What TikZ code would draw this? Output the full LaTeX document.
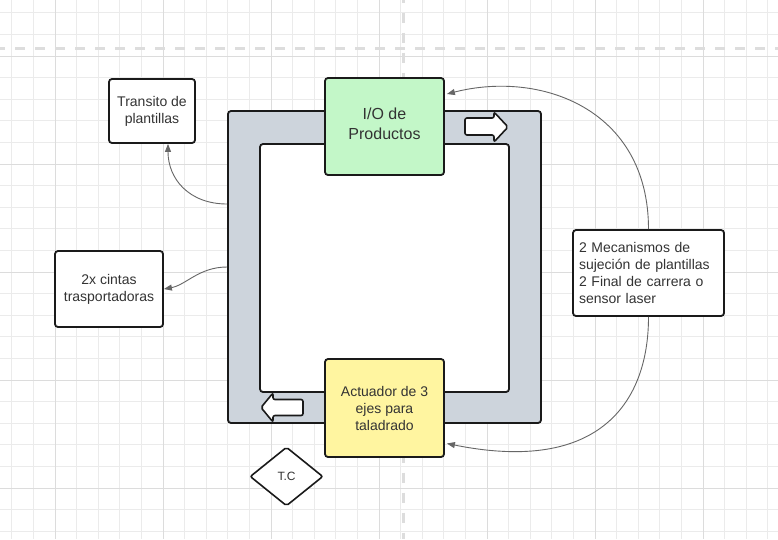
\documentclass[tikz,border=0pt]{standalone}
\usepackage{fontspec}
\setmainfont{Liberation Sans}
\usetikzlibrary{arrows.meta,shapes.geometric}
\definecolor{gridminor}{HTML}{EBEBEB}
\definecolor{gridmajor}{HTML}{DCDCDC}
\definecolor{dashgray}{HTML}{DDDDDD}
\definecolor{framegray}{HTML}{CDD4DC}
\definecolor{boxgreen}{HTML}{C3F7C8}
\definecolor{boxyellow}{HTML}{FFF5A0}
\definecolor{txt}{HTML}{333333}
\definecolor{conn}{HTML}{666666}
\definecolor{edge}{HTML}{1A1A1A}
\tikzset{
  gridmin/.style={draw=gridminor, line width=0.9pt},
  gridmaj/.style={draw=gridmajor, line width=1pt},
  guide/.style={draw=dashgray, line width=3pt, dash pattern=on 10pt off 10pt},
  panel/.style={draw=edge, line width=1.8pt, rounded corners=3pt, inner sep=0pt},
  labelbox/.style={draw=edge, line width=1.8pt, rounded corners=3pt, fill=white,
    text=txt, align=center, font=\fontsize{14}{17}\selectfont, inner sep=2pt},
  blockarrow/.style={draw=edge, line width=1.6pt, fill=white, rounded corners=2pt},
  link/.style={draw=conn, line width=0.9pt, -{Triangle[length=8pt,width=6pt]}},
}
\begin{document}
\begin{tikzpicture}[x=1pt,y=-1pt]
\useasboundingbox (0,0) rectangle (778,539);
\fill[white] (0,0) rectangle (778,539);
% grid
\foreach \i in {0,...,35} {
  \pgfmathsetmacro\xx{11.8+21.6*\i}
  \draw[gridmin] (\xx,0) -- (\xx,539);
}
\foreach \i in {0,...,24} {
  \pgfmathsetmacro\yy{12.8+21.6*\i}
  \draw[gridmin] (0,\yy) -- (778,\yy);
}
\foreach \xx in {55,163,271,379,487,595,703} {
  \draw[gridmaj] (\xx,0) -- (\xx,539);
}
\foreach \yy in {56,164,272,380,488} {
  \draw[gridmaj] (0,\yy) -- (778,\yy);
}
\draw[guide, dash phase=5pt] (0,48) -- (778,48);
\draw[guide, dash phase=7.3pt] (403,0) -- (403,539);

% conveyor frame
\node[panel, fill=framegray, minimum width=313pt, minimum height=312pt] (frame) at (384.5,267) {};
\node[panel, fill=white, minimum width=249pt, minimum height=248pt] (inner) at (384.5,268) {};

% block arrows
\draw[blockarrow] (465,118) -- (494,118) -- (494,112) -- (508,127) -- (494,142) -- (494,135) -- (465,135) -- cycle;
\draw[blockarrow] (303,399.5) -- (273,399.5) -- (273,393) -- (261,407.5) -- (273,422) -- (273,415.5) -- (303,415.5) -- cycle;

% boxes
\node[labelbox, fill=boxgreen, minimum width=119pt, minimum height=97pt,
      font=\fontsize{16}{20}\selectfont] (io) at (384.5,126.5) {I/O de\\Productos\rule[-5pt]{0pt}{0pt}};
\node[labelbox, fill=boxyellow, minimum width=119pt, minimum height=98pt] (act) at (384.5,408) {Actuador de 3\\ejes para\\taladrado};
\node[labelbox, minimum width=86pt, minimum height=64pt] (trans) at (152,111) {Transito de\\plantillas};
\node[labelbox, minimum width=108pt, minimum height=76pt] (cintas) at (109,289) {2x cintas\\trasportadoras};
\node[labelbox, align=left, text width=139pt, inner sep=6pt, minimum height=86pt] (sens) at (648.5,273)
  {2 Mecanismos de\\sujeción de plantillas\\2 Final de carrera o\\sensor laser};
\node[draw=edge, line width=1.6pt, fill=white, diamond, aspect=1.24, minimum width=73pt, minimum height=59pt,
      inner sep=0pt, rounded corners=2pt, text=txt, font=\fontsize{12}{14}\selectfont] (tc) at (286.5,476.5) {T.C};

% connectors
\draw[link] ([yshift=63pt]frame.west) .. controls +(-38,0) and +(0,35) .. ([xshift=16pt]trans.south);
\draw[link] (frame.west) .. controls +(-28,0) and +(22,-4) .. (cintas.east);
\draw[link] (sens.north) .. controls +(0,-120) and +(94,-24) .. ([xshift=2pt,yshift=32.5pt]io.east);
\draw[link] (sens.south) .. controls +(0,84) and +(154,31) .. ([xshift=2pt,yshift=-35.5pt]act.east);
\end{tikzpicture}
\end{document}
